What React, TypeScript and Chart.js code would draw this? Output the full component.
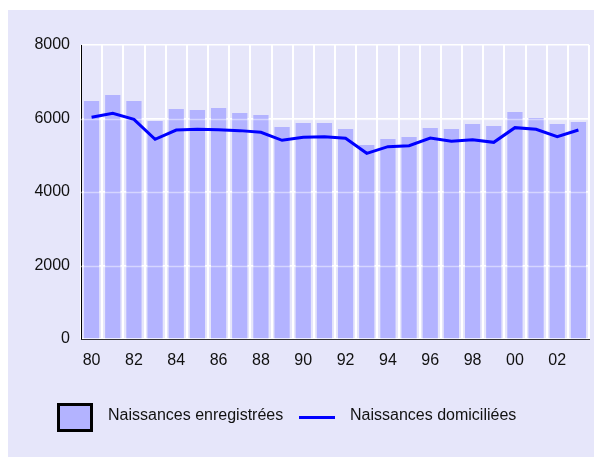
import React, { useEffect, useRef } from 'react';
import { Chart, registerables } from 'chart.js';

Chart.register(...registerables);

const years = ['80', '81', '82', '83', '84', '85', '86', '87', '88', '89', '90', '91', '92', '93', '94', '95', '96', '97', '98', '99', '00', '01', '02', '03'];
const registered = [6476, 6639, 6476, 5932, 6259, 6231, 6286, 6150, 6095, 5769, 5878, 5878, 5714, 5279, 5442, 5497, 5741, 5714, 5850, 5796, 6177, 6014, 5850, 5905];
const domiciled = [6032, 6141, 5978, 5433, 5687, 5706, 5697, 5670, 5624, 5406, 5488, 5506, 5461, 5052, 5233, 5261, 5469, 5379, 5424, 5351, 5751, 5706, 5506, 5687];
const yMin = 0;
const yMax = 8000;
const yStep = 2000;
const legendLabels = ['Naissances enregistrées', 'Naissances domiciliées'];

const BG = '#e6e6fa';
const BAR = '#b3b3ff';
const LINE = '#0000ff';
const FONT = '"Liberation Sans", Arial, Helvetica, sans-serif';

const backgroundPlugin = {
  id: 'bgPanel',
  beforeDraw(chart: any) {
    const { ctx, width, height } = chart;
    ctx.save();
    ctx.fillStyle = BG;
    ctx.fillRect(0, 0, width, height);
    ctx.restore();
  },
};

const faintGridPlugin = {
  id: 'faintGrid',
  afterDatasetDraw(chart: any, args: any) {
    if (args.index !== 0) return;
    const { ctx, chartArea } = chart;
    const y = chart.scales.y;
    ctx.save();
    ctx.strokeStyle = 'rgba(255,255,255,0.45)';
    ctx.lineWidth = 1.5;
    for (let v = yMin + yStep; v < yMax; v += yStep) {
      const py = Math.round(y.getPixelForValue(v)) + 0.5;
      ctx.beginPath();
      ctx.moveTo(chartArea.left, py);
      ctx.lineTo(chartArea.right, py);
      ctx.stroke();
    }
    ctx.restore();
  },
};

const legendPlugin = {
  id: 'customLegend',
  afterDraw(chart: any) {
    const { ctx } = chart;
    ctx.save();
    ctx.fillStyle = BAR;
    ctx.fillRect(49, 393, 36, 29);
    ctx.strokeStyle = '#000';
    ctx.lineWidth = 3;
    ctx.strokeRect(50.5, 394.5, 33, 26);
    ctx.font = `16px ${FONT}`;
    ctx.fillStyle = '#111';
    ctx.textBaseline = 'middle';
    ctx.textAlign = 'left';
    ctx.fillText(legendLabels[0], 100, 406);
    ctx.strokeStyle = LINE;
    ctx.lineWidth = 3;
    ctx.beginPath();
    ctx.moveTo(291, 407.5);
    ctx.lineTo(327, 407.5);
    ctx.stroke();
    ctx.fillText(legendLabels[1], 342, 406);
    ctx.restore();
  },
};

export default function App() {
  const ref = useRef<HTMLCanvasElement | null>(null);

  useEffect(() => {
    document.documentElement.style.overflow = 'hidden';
    document.body.style.overflow = 'hidden';
    const canvas = ref.current;
    if (!canvas) return;
    const chart = new Chart(canvas, {
      type: 'bar',
      data: {
        labels: years,
        datasets: [
          {
            type: 'bar',
            label: legendLabels[0],
            data: registered,
            backgroundColor: BAR,
            borderWidth: 0,
            categoryPercentage: 1,
            barPercentage: 0.72,
            order: 2,
          },
          {
            type: 'line',
            label: legendLabels[1],
            data: domiciled,
            borderColor: LINE,
            backgroundColor: LINE,
            borderWidth: 3,
            pointRadius: 0,
            tension: 0,
            order: 1,
          } as any,
        ],
      },
      options: {
        responsive: false,
        animation: false,
        devicePixelRatio: 1,
        layout: { padding: { top: 35, right: 13, bottom: 78, left: 0 } },
        plugins: {
          legend: { display: false },
          tooltip: { enabled: false },
        },
        scales: {
          x: {
            offset: true,
            grid: {
              offset: true,
              color: '#ffffff',
              lineWidth: 2,
              drawTicks: false,
            },
            border: { display: true, color: '#333333', width: 1 },
            ticks: {
              autoSkip: false,
              maxRotation: 0,
              padding: 12,
              color: '#111',
              font: { family: FONT, size: 16 },
              callback: (_v: any, i: number) => (i % 2 === 0 ? years[i] : ''),
            },
            afterFit: (s: any) => {
              s.height = 40;
            },
          },
          y: {
            min: yMin,
            max: yMax,
            ticks: {
              stepSize: yStep,
              padding: 11,
              color: '#111',
              font: { family: FONT, size: 16 },
              callback: (v: any) => String(v),
            },
            grid: { color: '#ffffff', lineWidth: 1.5, drawTicks: false },
            border: { display: true, color: '#000000', width: 1 },
            afterFit: (s: any) => {
              s.width = 73;
            },
          },
        },
      },
      plugins: [backgroundPlugin, faintGridPlugin, legendPlugin],
    });
    return () => chart.destroy();
  }, []);

  return (
    <div style={{ marginTop: 2, width: 594, height: 447 }}>
      <canvas ref={ref} width={594} height={447} style={{ display: 'block' }} />
    </div>
  );
}
